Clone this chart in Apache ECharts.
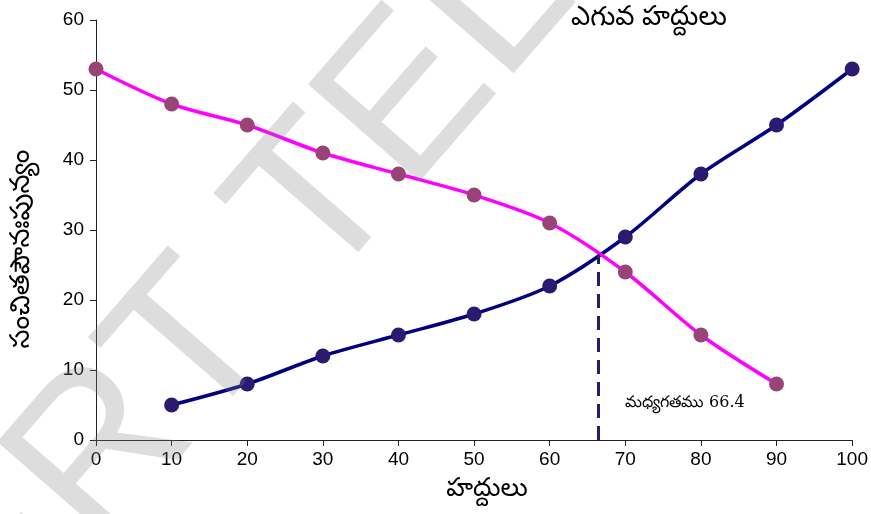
<!DOCTYPE html>
<html>
<head>
<meta charset="utf-8">
<script src="https://cdn.jsdelivr.net/npm/echarts@6/dist/echarts.min.js"></script>
<style>
  html, body { margin: 0; padding: 0; background: #fff; }
  #chart { width: 871px; height: 514px; }
</style>
</head>
<body>
<div id="chart"></div>
<script>
// Class limits (x) and cumulative frequencies
const lessThanLimits = [10, 20, 30, 40, 50, 60, 70, 80, 90, 100];
const lessThanCumFreq = [5, 8, 12, 15, 18, 22, 29, 38, 45, 53];
const moreThanLimits = [0, 10, 20, 30, 40, 50, 60, 70, 80, 90];
const moreThanCumFreq = [53, 48, 45, 41, 38, 35, 31, 24, 15, 8];

const xTicks = [0, 10, 20, 30, 40, 50, 60, 70, 80, 90, 100];
const yTicks = [0, 10, 20, 30, 40, 50, 60];

const medianValue = 66.4;
const medianCrossY = 26.5;

const titleText = 'ఎగువ హద్దులు';
const xAxisTitle = 'హద్దులు';
const yAxisTitle = 'సంచితపౌనఃపున్యం';
const medianLabel = 'మధ్యగతము 66.4';

const chart = echarts.init(document.getElementById('chart'), null, { renderer: 'canvas' });

const axisFont = '"Liberation Sans", Arial, sans-serif';
const teluguFont = '"Noto Sans Telugu", "Noto Sans", sans-serif';
const markFont = '"Liberation Sans", Arial, sans-serif';
const markFill = 'rgba(128,128,128,0.27)';
const markAngle = 49 * Math.PI / 180;

const pairs = (xs, ys) => xs.map((x, i) => [x, ys[i]]);

chart.setOption({
  backgroundColor: '#ffffff',
  animation: false,
  grid: { left: 96, right: 18, top: 20, bottom: 74, containLabel: false },
  xAxis: {
    type: 'value',
    min: xTicks[0],
    max: xTicks[xTicks.length - 1],
    interval: 10,
    axisLine: { show: true, lineStyle: { color: '#222', width: 1 } },
    axisTick: { show: true, length: 6, inside: false, lineStyle: { color: '#222' } },
    axisLabel: { color: '#000', fontSize: 19, fontFamily: axisFont, margin: 10 },
    splitLine: { show: false }
  },
  yAxis: {
    type: 'value',
    min: yTicks[0],
    max: yTicks[yTicks.length - 1],
    interval: 10,
    axisLine: { show: true, lineStyle: { color: '#222', width: 1 } },
    axisTick: { show: true, length: 6, inside: false, lineStyle: { color: '#222' } },
    axisLabel: { color: '#000', fontSize: 19, fontFamily: axisFont, margin: 12 },
    splitLine: { show: false }
  },
  series: [
    {
      name: 'less',
      type: 'line',
      data: pairs(lessThanLimits, lessThanCumFreq),
      smooth: 0.3,
      symbol: 'circle',
      symbolSize: 15,
      lineStyle: { color: '#000080', width: 3.5 },
      itemStyle: { color: '#2b1a70', borderWidth: 0 },
      z: 3,
      markLine: {
        silent: true,
        symbol: ['none', 'none'],
        label: { show: false },
        lineStyle: { color: '#2b1a70', width: 3, type: [14, 8] },
        data: [[{ coord: [medianValue, 0] }, { coord: [medianValue, medianCrossY] }]]
      }
    },
    {
      name: 'more',
      type: 'line',
      data: pairs(moreThanLimits, moreThanCumFreq),
      smooth: 0.3,
      symbol: 'circle',
      symbolSize: 15,
      lineStyle: { color: '#ff00ff', width: 3.5 },
      itemStyle: { color: '#994477', borderWidth: 0 },
      z: 4
    }
  ],
  graphic: [
    {
      type: 'text',
      left: 571,
      top: 8,
      style: { text: titleText, fill: '#000', font: '27px ' + teluguFont }
    },
    {
      type: 'text',
      x: 487,
      y: 492,
      style: {
        text: xAxisTitle, fill: '#000', font: '26px ' + teluguFont,
        align: 'center', verticalAlign: 'middle'
      }
    },
    {
      type: 'text',
      x: 25,
      y: 249,
      rotation: Math.PI / 2,
      style: {
        text: yAxisTitle, fill: '#000', font: '27px ' + teluguFont,
        align: 'center', verticalAlign: 'middle'
      }
    },
    {
      type: 'text',
      left: 625,
      top: 395,
      style: { text: medianLabel, fill: '#000', font: '16px "DejaVu Serif", serif' }
    },
    // faint diagonal watermark
    {
      type: 'text',
      x: 277,
      y: 255,
      rotation: markAngle,
      z: 100,
      silent: true,
      style: {
        text: 'TELANGANA', fill: markFill, font: '215px ' + markFont,
        align: 'left', verticalAlign: 'middle'
      }
    },
    {
      type: 'text',
      x: 238,
      y: 300,
      rotation: markAngle,
      z: 100,
      silent: true,
      style: {
        text: 'SCERT', fill: markFill, font: '215px ' + markFont,
        align: 'right', verticalAlign: 'middle'
      }
    }
  ]
});
</script>
</body>
</html>
